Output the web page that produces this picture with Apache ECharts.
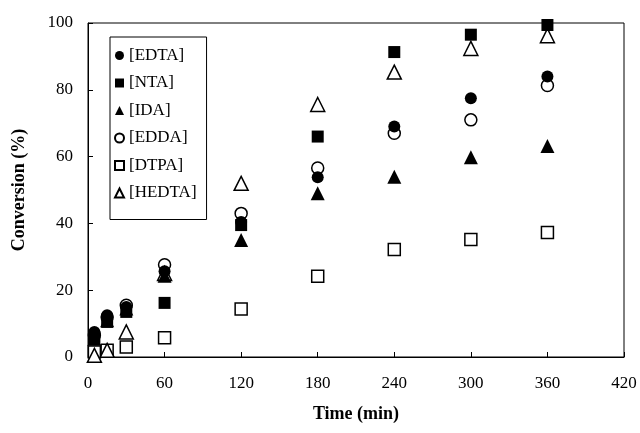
<!DOCTYPE html>
<html>
<head>
<meta charset="UTF-8">
<script type="text/javascript" src="https://cdn.jsdelivr.net/npm/echarts@6/dist/echarts.min.js"></script>
<title>Conversion</title>
</head>
<body style="margin:0">
	<div id="main" style="width:640px;height:433px;"></div>
	<script type="text/javascript">
		var times = [5, 15, 30, 60, 120, 180, 240, 300, 360];
		var edta  = [7.5, 12.5, 15, 25.7, 40.4, 53.8, 69, 77.5, 84];
		var nta   = [6, 10.5, 13.5, 16.2, 39.5, 66, 91.3, 96.5, 99.4];
		var ida   = [5.5, 11, 14.5, 24.3, 35, 49, 54, 59.8, 63.2];
		var edda  = [6.5, 12, 15.5, 27.6, 43, 56.6, 67, 71, 81.3];
		var dtpa  = [1.5, 2, 3, 5.8, 14.4, 24.2, 32.2, 35.2, 37.3];
		var hedta = [0.5, 2, 7.5, 25, 52, 75.6, 85.3, 92.4, 96.2];
		var names = ['[EDTA]', '[NTA]', '[IDA]', '[EDDA]', '[DTPA]', '[HEDTA]'];

		var font = 'Liberation Serif, Times New Roman, serif';
		var myChart = echarts.init(document.getElementById("main"));

		function pairs(v) {
			var out = [];
			for (var i = 0; i < times.length; i++) out.push([times[i], v[i]]);
			return out;
		}
		// filled markers sit on top of the open ones, like in the original
		function mk(name, data, symbol, size, filled) {
			return {
				name: name,
				type: 'scatter',
				data: pairs(data),
				symbol: symbol,
				symbolSize: size,
				z: filled ? 3 : 2,
				itemStyle: filled ? {color: '#000', opacity: 1} : {color: '#fff', borderColor: '#000', borderWidth: 1.5, opacity: 1},
				emphasis: {disabled: true}
			};
		}

		var option = {
			animation: false,
			grid: {left: 88, right: 16, top: 23, bottom: 76, show: true, borderColor: '#000', borderWidth: 1},
			legend: {
				orient: 'vertical',
				left: 110, top: 37,
				padding: [10, 10, 18, 4],
				borderColor: '#000', borderWidth: 1,
				itemWidth: 9, itemHeight: 9, itemGap: 10.5,
				textStyle: {fontFamily: font, fontSize: 17, color: '#000'},
				data: names
			},
			xAxis: {
				type: 'value', min: 0, max: 420, interval: 60,
				name: 'Time (min)', nameLocation: 'middle', nameGap: 48,
				nameTextStyle: {fontFamily: font, fontSize: 18, fontWeight: 'bold', color: '#000'},
				axisLine: {lineStyle: {color: '#000', width: 1}},
				axisTick: {inside: true, length: 5, lineStyle: {color: '#000'}},
				axisLabel: {fontFamily: font, fontSize: 17, color: '#000', margin: 18},
				splitLine: {show: false}
			},
			yAxis: {
				type: 'value', min: 0, max: 100, interval: 20,
				name: 'Conversion (%)', nameLocation: 'middle', nameGap: 60,
				nameTextStyle: {fontFamily: font, fontSize: 18, fontWeight: 'bold', color: '#000'},
				axisLine: {show: true, lineStyle: {color: '#000', width: 1}},
				axisTick: {show: true, inside: true, length: 5, lineStyle: {color: '#000'}},
				axisLabel: {fontFamily: font, fontSize: 17, color: '#000', margin: 15},
				splitLine: {show: false}
			},
			series: [
				mk(names[0], edta, 'circle', 12, true),
				mk(names[1], nta, 'rect', 12, true),
				mk(names[2], ida, 'triangle', 14, true),
				mk(names[3], edda, 'circle', 12, false),
				mk(names[4], dtpa, 'rect', 12, false),
				mk(names[5], hedta, 'triangle', 14, false)
			]
		};
		myChart.setOption(option);
	</script>
</body>
</html>
